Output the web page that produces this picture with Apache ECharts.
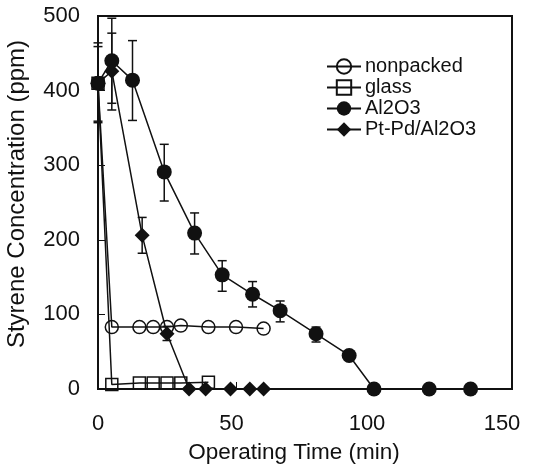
<!DOCTYPE html>
<html>
<head>
<meta charset="utf-8">
<script src="https://cdn.jsdelivr.net/npm/echarts@6/dist/echarts.min.js"></script>
<style>html,body{margin:0;padding:0;background:#fff}#c{width:533px;height:464px}</style>
</head>
<body>
<div id="c"></div>
<script>
// ---- data ----
var seriesNames = ['nonpacked', 'glass', 'Al2O3', 'Pt-Pd/Al2O3'];

var nonpackedX = [0, 5, 15, 20, 25, 30, 40, 50, 60];
var nonpackedY = [410, 83, 83, 83, 83, 85, 83, 83, 81];

var glassX = [0, 5, 15, 20, 25, 30, 40];
var glassY = [410, 6, 8, 8, 8, 8, 9];

var al2o3X = [0, 5, 12.5, 24, 35, 45, 56, 66, 79, 91, 100, 120, 135];
var al2o3Y = [410, 440, 414, 291, 209, 153, 127, 105, 74, 45, 0, 0, 0];

var ptpdX = [0, 5, 16, 25, 33, 39, 48, 55, 60];
var ptpdY = [410, 426, 206, 74, 0, 0, 0, 0, 0];

// error bars: x, low, high
var al2o3ErrX = [0, 5, 12.5, 24, 35, 45, 56, 66, 79];
var al2o3ErrLow = [359, 374, 360, 252, 181, 131, 110, 90, 63];
var al2o3ErrHigh = [464, 497, 467, 328, 236, 172, 144, 118, 83];

var ptpdErrX = [0, 5, 16, 25];
var ptpdErrLow = [357, 383, 182, 65];
var ptpdErrHigh = [459, 477, 230, 84];

var xTicks = [0, 50, 100, 150];
var yTicks = [0, 100, 200, 300, 400, 500];

// ---- build ----
function zip(xs, ys) { return xs.map(function (x, i) { return [x, ys[i]]; }); }
function zip3(xs, lo, hi) { return xs.map(function (x, i) { return [x, lo[i], hi[i]]; }); }

var BLACK = '#111';
var FONT = '"Liberation Sans", Arial, Helvetica, sans-serif';

function errRender(params, api) {
  var x = api.value(0), lo = api.value(1), hi = api.value(2);
  var pLo = api.coord([x, lo]), pHi = api.coord([x, hi]);
  var w = 4.5;
  var st = { stroke: BLACK, lineWidth: 1.5 };
  return {
    type: 'group',
    children: [
      { type: 'line', shape: { x1: pLo[0], y1: pLo[1], x2: pHi[0], y2: pHi[1] }, style: st },
      { type: 'line', shape: { x1: pLo[0] - w, y1: pLo[1], x2: pLo[0] + w, y2: pLo[1] }, style: st },
      { type: 'line', shape: { x1: pHi[0] - w, y1: pHi[1], x2: pHi[0] + w, y2: pHi[1] }, style: st }
    ]
  };
}

function lineSeries(name, data, symbol, size, filled) {
  return {
    name: name, type: 'line', data: data, symbol: symbol, symbolSize: size,
    showAllSymbol: true, z: 3,
    lineStyle: { color: BLACK, width: 1.5 },
    itemStyle: filled ? { color: BLACK, borderColor: BLACK, borderWidth: 0 }
                      : { color: 'rgba(0,0,0,0)', borderColor: BLACK, borderWidth: 1.5 },
    emphasis: { disabled: true },
    animation: false
  };
}

// small leftward nudges of the x tick labels, as in the reference
var xLabelRich = {
  s0: { fontSize: 22, color: BLACK, fontFamily: FONT, padding: [0, 0, 0, 0] },
  s1: { fontSize: 22, color: BLACK, fontFamily: FONT, padding: [0, 9, 0, 0] },
  s2: { fontSize: 22, color: BLACK, fontFamily: FONT, padding: [0, 14, 0, 0] },
  s3: { fontSize: 22, color: BLACK, fontFamily: FONT, padding: [0, 20, 0, 0] }
};

var chart = echarts.init(document.getElementById('c'), null, { renderer: 'canvas' });
chart.setOption({
  backgroundColor: '#fff',
  animation: false,
  textStyle: { fontFamily: FONT },
  grid: { left: 98, right: 21, top: 16, bottom: 75, containLabel: false, outerBoundsMode: 'none', show: true, borderColor: BLACK, borderWidth: 2, backgroundColor: 'transparent' },
  legend: {
    orient: 'vertical', left: 321, top: 51,
    itemWidth: 34, itemHeight: 18, itemGap: 0,
    textStyle: { fontSize: 20, color: BLACK, fontFamily: FONT, lineHeight: 21, padding: [0, 0, 0, -1] },
    data: seriesNames
  },
  xAxis: {
    type: 'value', min: xTicks[0], max: xTicks[xTicks.length - 1], interval: 50,
    name: 'Operating Time (min)', nameLocation: 'middle', nameGap: 52,
    nameTextStyle: { fontSize: 22.5, color: BLACK, fontFamily: FONT, padding: [0, 22, 0, 0] },
    axisLine: { show: true, onZero: false, lineStyle: { color: BLACK, width: 2 } },
    axisTick: { show: true, inside: true, length: 7, lineStyle: { color: BLACK, width: 1 } },
    axisLabel: {
      fontSize: 22, color: BLACK, margin: 24, fontFamily: FONT,
      formatter: function (v) { var i = xTicks.indexOf(v); return '{s' + (i < 0 ? 0 : i) + '|' + v + '}'; },
      rich: xLabelRich
    },
    splitLine: { show: false }
  },
  yAxis: {
    type: 'value', min: yTicks[0], max: yTicks[yTicks.length - 1], interval: 100,
    name: 'Styrene Concentration (ppm)', nameLocation: 'middle', nameGap: 69,
    nameTextStyle: { fontSize: 24, color: BLACK, fontFamily: FONT, padding: [0, 0, 0, 17] },
    axisLine: { show: true, onZero: false, lineStyle: { color: BLACK, width: 2 } },
    axisTick: { show: true, inside: true, length: 7, lineStyle: { color: BLACK, width: 1 } },
    axisLabel: { fontSize: 22, color: BLACK, margin: 18, fontFamily: FONT },
    splitLine: { show: false }
  },
  series: [
    { type: 'custom', name: 'errAl2O3', renderItem: errRender, data: zip3(al2o3ErrX, al2o3ErrLow, al2o3ErrHigh), encode: { x: 0, y: [1, 2] }, z: 2, silent: true },
    { type: 'custom', name: 'errPtPd', renderItem: errRender, data: zip3(ptpdErrX, ptpdErrLow, ptpdErrHigh), encode: { x: 0, y: [1, 2] }, z: 2, silent: true },
    lineSeries('nonpacked', zip(nonpackedX, nonpackedY), 'circle', 13, false),
    lineSeries('glass', zip(glassX, glassY), 'rect', 12, false),
    lineSeries('Al2O3', zip(al2o3X, al2o3Y), 'circle', 15, true),
    lineSeries('Pt-Pd/Al2O3', zip(ptpdX, ptpdY), 'diamond', 15, true)
  ]
});
</script>
</body>
</html>
